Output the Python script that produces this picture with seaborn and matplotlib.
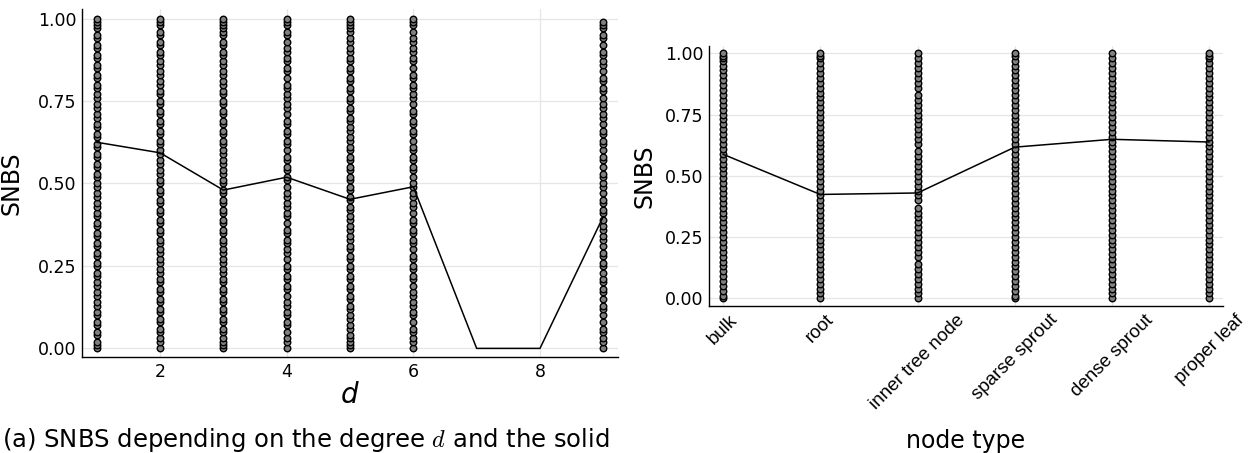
import numpy as np
import pandas as pd
import matplotlib
matplotlib.use("Agg")
import matplotlib.pyplot as plt
import seaborn as sns

# ---------------- data ----------------
degrees = [1, 2, 3, 4, 5, 6, 7, 8, 9]
mean_snbs_by_degree = [0.625, 0.593, 0.480, 0.519, 0.452, 0.490, 0.0, 0.0, 0.400]

snbs_d1 = [0.00, 0.01, 0.02, 0.04, 0.05, 0.07, 0.08, 0.10, 0.11, 0.13, 0.14, 0.16, 0.17, 0.19, 0.20, 0.22,
           0.23, 0.25, 0.26, 0.28, 0.29, 0.31, 0.32, 0.34, 0.35, 0.37, 0.38, 0.40, 0.41, 0.43, 0.44, 0.46,
           0.47, 0.49, 0.50, 0.52, 0.53, 0.55, 0.56, 0.58, 0.59, 0.61, 0.62, 0.64, 0.65, 0.67, 0.68, 0.70,
           0.71, 0.73, 0.74, 0.76, 0.77, 0.79, 0.80, 0.82, 0.83, 0.85, 0.86, 0.88, 0.89, 0.91, 0.92, 0.94,
           0.95, 0.97, 0.98, 0.99, 1.00]
snbs_d2 = [0.00, 0.02, 0.03, 0.05, 0.06, 0.08, 0.09, 0.11, 0.12, 0.14, 0.15, 0.17, 0.18, 0.20, 0.21, 0.23,
           0.24, 0.26, 0.27, 0.29, 0.30, 0.32, 0.33, 0.35, 0.36, 0.38, 0.39, 0.41, 0.42, 0.44, 0.45, 0.47,
           0.48, 0.50, 0.51, 0.53, 0.54, 0.56, 0.57, 0.59, 0.60, 0.62, 0.63, 0.65, 0.66, 0.68, 0.69, 0.71,
           0.72, 0.74, 0.75, 0.77, 0.78, 0.80, 0.81, 0.83, 0.84, 0.86, 0.87, 0.89, 0.90, 0.92, 0.93, 0.95,
           0.96, 0.98, 0.99, 1.00]
snbs_d3 = [0.00, 0.01, 0.02, 0.03, 0.05, 0.06, 0.08, 0.09, 0.11, 0.12, 0.14, 0.15, 0.17, 0.18, 0.20, 0.21,
           0.23, 0.24, 0.26, 0.27, 0.29, 0.30, 0.32, 0.33, 0.35, 0.36, 0.38, 0.39, 0.41, 0.42, 0.44, 0.45,
           0.47, 0.48, 0.50, 0.51, 0.53, 0.54, 0.56, 0.57, 0.59, 0.60, 0.62, 0.63, 0.65, 0.66, 0.68, 0.69,
           0.71, 0.72, 0.74, 0.75, 0.77, 0.78, 0.80, 0.81, 0.83, 0.84, 0.86, 0.87, 0.89, 0.90, 0.92, 0.93,
           0.95, 0.96, 0.97, 0.98, 0.99, 1.00]
snbs_d4 = [0.00, 0.02, 0.03, 0.05, 0.07, 0.08, 0.10, 0.11, 0.13, 0.14, 0.16, 0.18, 0.19, 0.21, 0.22, 0.24,
           0.25, 0.27, 0.29, 0.30, 0.32, 0.33, 0.35, 0.36, 0.38, 0.40, 0.41, 0.43, 0.44, 0.46, 0.47, 0.49,
           0.51, 0.52, 0.54, 0.55, 0.57, 0.58, 0.60, 0.62, 0.63, 0.65, 0.66, 0.68, 0.69, 0.71, 0.73, 0.74,
           0.76, 0.77, 0.79, 0.80, 0.82, 0.84, 0.85, 0.87, 0.88, 0.90, 0.91, 0.93, 0.95, 0.96, 0.98, 0.99, 1.00]
snbs_d5 = [0.00, 0.01, 0.02, 0.03, 0.04, 0.06, 0.07, 0.09, 0.10, 0.12, 0.13, 0.15, 0.16, 0.18, 0.19, 0.21,
           0.22, 0.24, 0.25, 0.27, 0.28, 0.30, 0.31, 0.33, 0.34, 0.36, 0.37, 0.39, 0.40, 0.42, 0.43, 0.45,
           0.46, 0.48, 0.49, 0.51, 0.52, 0.54, 0.55, 0.57, 0.58, 0.60, 0.61, 0.63, 0.64, 0.66, 0.67, 0.69,
           0.70, 0.72, 0.73, 0.75, 0.76, 0.78, 0.79, 0.81, 0.82, 0.84, 0.85, 0.87, 0.88, 0.90, 0.91, 0.93,
           0.94, 0.96, 0.97, 0.98, 0.99, 1.00]
snbs_d6 = [0.00, 0.02, 0.03, 0.05, 0.06, 0.08, 0.10, 0.11, 0.13, 0.14, 0.16, 0.17, 0.19, 0.21, 0.22, 0.24,
           0.25, 0.27, 0.28, 0.30, 0.32, 0.33, 0.35, 0.36, 0.38, 0.39, 0.41, 0.43, 0.44, 0.46, 0.47, 0.49,
           0.50, 0.52, 0.54, 0.55, 0.57, 0.58, 0.60, 0.61, 0.63, 0.65, 0.66, 0.68, 0.69, 0.71, 0.72, 0.74,
           0.76, 0.77, 0.79, 0.80, 0.82, 0.83, 0.85, 0.87, 0.88, 0.90, 0.91, 0.93, 0.94, 0.96, 0.98, 0.99, 1.00]
snbs_d9 = [0.00, 0.02, 0.03, 0.05, 0.06, 0.08, 0.10, 0.12, 0.13, 0.15, 0.17, 0.18, 0.20, 0.21, 0.23, 0.25,
           0.26, 0.28, 0.29, 0.31, 0.33, 0.34, 0.36, 0.37, 0.39, 0.41, 0.42, 0.44, 0.45, 0.47, 0.49, 0.50,
           0.52, 0.53, 0.55, 0.57, 0.58, 0.60, 0.62, 0.63, 0.65, 0.66, 0.68, 0.70, 0.71, 0.73, 0.74, 0.76,
           0.78, 0.79, 0.81, 0.82, 0.84, 0.86, 0.87, 0.89, 0.90, 0.92, 0.94, 0.95, 0.97, 0.98, 0.99]

node_types = ["bulk", "root", "inner tree node", "sparse sprout", "dense sprout", "proper leaf"]
mean_snbs_by_type = [0.588, 0.424, 0.430, 0.617, 0.649, 0.638]

snbs_bulk = [0.00, 0.01, 0.03, 0.05, 0.07, 0.09, 0.11, 0.13, 0.15, 0.17, 0.19, 0.21, 0.23, 0.25, 0.27, 0.29,
             0.31, 0.33, 0.35, 0.37, 0.39, 0.41, 0.43, 0.45, 0.47, 0.49, 0.51, 0.53, 0.55, 0.57, 0.59, 0.61,
             0.63, 0.65, 0.67, 0.69, 0.71, 0.73, 0.75, 0.77, 0.79, 0.81, 0.83, 0.85, 0.87, 0.89, 0.91, 0.93,
             0.95, 0.97, 0.98, 0.99, 1.00]
snbs_root = [0.00, 0.02, 0.04, 0.06, 0.08, 0.10, 0.12, 0.14, 0.16, 0.18, 0.20, 0.22, 0.24, 0.26, 0.28, 0.30,
             0.32, 0.34, 0.36, 0.38, 0.40, 0.42, 0.44, 0.46, 0.48, 0.50, 0.52, 0.54, 0.56, 0.58, 0.60, 0.62,
             0.64, 0.66, 0.68, 0.70, 0.72, 0.74, 0.76, 0.78, 0.80, 0.82, 0.84, 0.86, 0.88, 0.90, 0.92, 0.94,
             0.96, 0.98, 0.99, 1.00]
snbs_inner = [0.00, 0.02, 0.04, 0.06, 0.08, 0.10, 0.12, 0.14, 0.17, 0.19, 0.21, 0.23, 0.25, 0.27, 0.29, 0.31,
              0.33, 0.35, 0.37, 0.40, 0.42, 0.44, 0.46, 0.48, 0.50, 0.52, 0.54, 0.56, 0.58, 0.60, 0.63, 0.65,
              0.67, 0.69, 0.71, 0.73, 0.75, 0.77, 0.79, 0.81, 0.83, 0.86, 0.88, 0.90, 0.92, 0.94, 0.96, 0.98,
              1.00]
snbs_sparse = [0.00, 0.01, 0.03, 0.05, 0.07, 0.09, 0.11, 0.13, 0.15, 0.17, 0.19, 0.21, 0.23, 0.25, 0.27, 0.29,
               0.31, 0.33, 0.35, 0.37, 0.39, 0.41, 0.43, 0.45, 0.47, 0.49, 0.51, 0.53, 0.55, 0.57, 0.59, 0.61,
               0.63, 0.65, 0.67, 0.69, 0.71, 0.73, 0.75, 0.77, 0.79, 0.81, 0.83, 0.85, 0.87, 0.89, 0.91, 0.93,
               0.95, 0.97, 0.99, 1.00]
snbs_dense = [0.00, 0.02, 0.04, 0.06, 0.08, 0.10, 0.12, 0.14, 0.16, 0.18, 0.20, 0.22, 0.24, 0.26, 0.28, 0.30,
              0.32, 0.34, 0.36, 0.38, 0.40, 0.42, 0.44, 0.46, 0.48, 0.50, 0.52, 0.54, 0.56, 0.58, 0.60, 0.62,
              0.64, 0.66, 0.68, 0.70, 0.72, 0.74, 0.76, 0.78, 0.80, 0.82, 0.84, 0.86, 0.88, 0.90, 0.92, 0.94,
              0.96, 0.98, 1.00]
snbs_leaf = [0.00, 0.02, 0.04, 0.06, 0.08, 0.10, 0.12, 0.14, 0.16, 0.18, 0.20, 0.22, 0.24, 0.26, 0.28, 0.30,
             0.32, 0.34, 0.36, 0.38, 0.40, 0.42, 0.44, 0.46, 0.48, 0.50, 0.52, 0.54, 0.56, 0.58, 0.60, 0.62,
             0.64, 0.66, 0.68, 0.70, 0.72, 0.74, 0.76, 0.78, 0.80, 0.82, 0.84, 0.86, 0.88, 0.90, 0.92, 0.94,
             0.96, 0.98, 0.99, 1.00]

y_ticks = [0.0, 0.25, 0.5, 0.75, 1.0]
y_ticklabels = ["0.00", "0.25", "0.50", "0.75", "1.00"]
x_ticks_degree = [2, 4, 6, 8]

# ---------------- build tables ----------------
deg_samples = {1: snbs_d1, 2: snbs_d2, 3: snbs_d3, 4: snbs_d4, 5: snbs_d5, 6: snbs_d6, 9: snbs_d9}
df_deg = pd.DataFrame([(d, v) for d, vals in deg_samples.items() for v in vals], columns=["d", "SNBS"])
df_deg_mean = pd.DataFrame({"d": degrees, "SNBS": mean_snbs_by_degree})

type_samples = [snbs_bulk, snbs_root, snbs_inner, snbs_sparse, snbs_dense, snbs_leaf]
df_type = pd.DataFrame([(i, v) for i, vals in enumerate(type_samples) for v in vals],
                       columns=["pos", "SNBS"])
df_type_mean = pd.DataFrame({"pos": list(range(len(node_types))), "SNBS": mean_snbs_by_type})

# ---------------- style ----------------
sns.set_theme(style="white")
plt.rcParams["font.family"] = ["DejaVu Sans"]
plt.rcParams["mathtext.fontset"] = "cm"
for key in ["text.color", "axes.labelcolor", "xtick.color", "ytick.color"]:
    plt.rcParams[key] = "black"

fig = plt.figure(figsize=(12.48, 4.53), dpi=100)
W, H = 1248, 453
ax1 = fig.add_axes([81.7 / W, (H - 357.3) / H, (618 - 81.7) / W, (357.3 - 9) / H])
ax2 = fig.add_axes([709 / W, (H - 305.7) / H, (1222.7 - 709) / W, (305.7 - 45.7) / H])

marker_kw = dict(s=22, color="#808080", edgecolor="#000000", linewidth=1.0, alpha=1.0, zorder=3)
line_kw = dict(color="black", linewidth=1.1, zorder=4)

def style_axes(ax):
    for side in ["top", "right"]:
        ax.spines[side].set_visible(False)
    for side in ["left", "bottom"]:
        ax.spines[side].set_color("black")
        ax.spines[side].set_linewidth(1.0)
    ax.grid(True, color="#e6e6e6", linewidth=0.9, zorder=0)
    ax.set_axisbelow(True)
    ax.tick_params(direction="in", length=4, width=0.8, colors="black", labelsize=12.5, pad=4)
    ax.set_yticks(y_ticks)
    ax.set_yticklabels(y_ticklabels)

# left panel
sns.scatterplot(data=df_deg, x="d", y="SNBS", ax=ax1, **marker_kw)
sns.lineplot(data=df_deg_mean, x="d", y="SNBS", ax=ax1, **line_kw)
style_axes(ax1)
ax1.set_xlim(0.763, 9.232)
ax1.set_ylim(-0.027, 1.029)
ax1.set_xticks(x_ticks_degree)
ax1.set_xlabel("d", fontsize=20, style="italic", labelpad=0)
ax1.set_ylabel("SNBS", fontsize=17, labelpad=10)

# right panel
sns.scatterplot(data=df_type, x="pos", y="SNBS", ax=ax2, **marker_kw)
sns.lineplot(data=df_type_mean, x="pos", y="SNBS", ax=ax2, **line_kw)
style_axes(ax2)
ax2.set_xlim(-0.144, 5.138)
ax2.set_ylim(-0.030, 1.031)
ax2.set_xticks(list(range(len(node_types))))
ax2.set_xticklabels(node_types, rotation=45, ha="center", va="top", fontsize=13.5,
                    family=["Liberation Sans", "DejaVu Sans"])
ax2.set_xlabel("node type", fontsize=17, labelpad=12)
ax2.set_ylabel("SNBS", fontsize=17, labelpad=6)

fig.text(0.002, 1 - 426 / H, "(a) SNBS depending on the degree $d$ and the solid",
         fontsize=17.5, va="top", ha="left")

fig.savefig("out.png", dpi=100)
